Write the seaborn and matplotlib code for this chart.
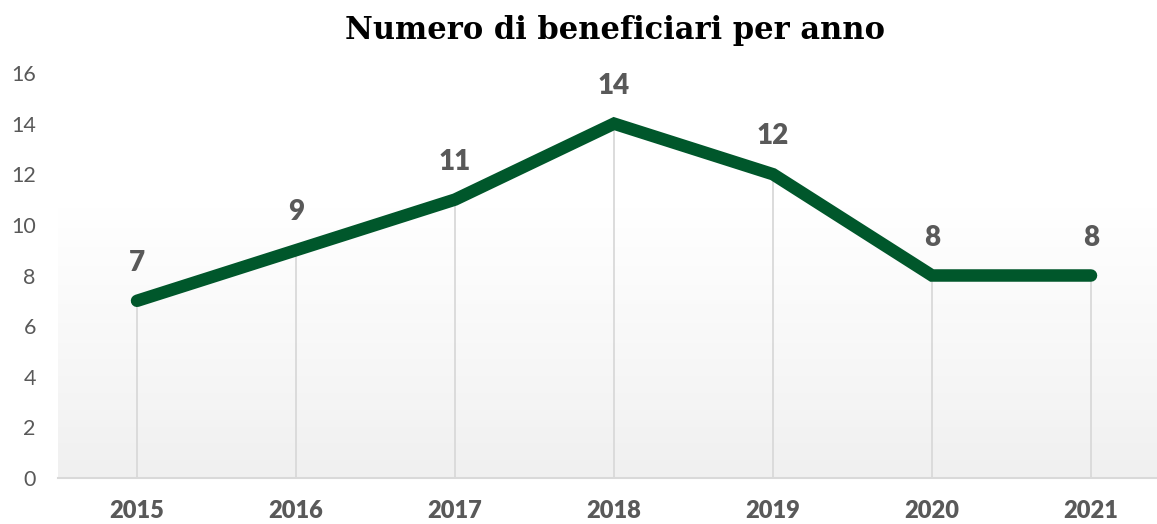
import matplotlib
matplotlib.use("Agg")
import matplotlib.pyplot as plt
import seaborn as sns
import numpy as np
import pandas as pd
from matplotlib.colors import LinearSegmentedColormap

# --- data ---
anni = ["2015", "2016", "2017", "2018", "2019", "2020", "2021"]
beneficiari = [7, 9, 11, 14, 12, 8, 8]
y_ticks = [0, 2, 4, 6, 8, 10, 12, 14, 16]

df = pd.DataFrame({"anno": anni, "beneficiari": beneficiari})

sns.set_theme(style="white")
plt.rcParams["font.family"] = ["Lato", "DejaVu Sans"]

GREEN = "#00572b"
GRAY_TXT = "#595959"
GRID = "#d9d9d9"

W, H = 1157, 524
fig = plt.figure(figsize=(W / 100, H / 100), dpi=100)
ax = fig.add_axes([58 / W, 46 / H, (W - 58) / W, 405 / H])

# gradient background of plot area (white on top -> light gray at bottom)
cmap = LinearSegmentedColormap.from_list("bg", ["#f0f0f0", "#f8f8f8", "#ffffff", "#ffffff"])
grad = np.linspace(0, 1, 256).reshape(-1, 1)
ax.imshow(grad, cmap=cmap, aspect="auto", origin="lower",
          extent=[-0.497, 6.415, 0, 16], zorder=0)

# drop lines
x_pos = np.arange(len(anni))
ax.vlines(x_pos, 0, df["beneficiari"], color=GRID, linewidth=1.3, zorder=1)

sns.lineplot(data=df, x="anno", y="beneficiari", color=GREEN, linewidth=9,
             sort=False, ax=ax, zorder=3,
             solid_capstyle="round", solid_joinstyle="miter")

for xi, v in zip(x_pos, df["beneficiari"]):
    ax.annotate(str(v), (xi, v), xytext=(0, 18), textcoords="offset points",
                ha="center", va="bottom", fontsize=20, fontweight="heavy",
                color=GRAY_TXT, zorder=4)

ax.set_xlim(-0.497, 6.415)
ax.set_ylim(0, 16)
ax.set_yticks(y_ticks)
ax.set_xticks(x_pos)
ax.set_xticklabels(anni)
ax.tick_params(axis="y", labelsize=15.5, labelcolor=GRAY_TXT, length=0, pad=16)
ax.tick_params(axis="x", labelsize=17, labelcolor=GRAY_TXT, length=0, pad=15.5)
for lab in ax.get_xticklabels():
    lab.set_fontweight("heavy")
ax.set_xlabel("")
ax.set_ylabel("")

for s in ["top", "right", "left"]:
    ax.spines[s].set_visible(False)
ax.spines["bottom"].set_color(GRID)
ax.spines["bottom"].set_linewidth(1.5)
ax.spines["bottom"].set_zorder(2)

fig.text(615 / W, 1 - 31 / H, "Numero di beneficiari per anno",
         ha="center", va="center", fontsize=22, fontweight="bold",
         family=["DejaVu Serif"], color="black")

fig.savefig("out.png", dpi=100)
